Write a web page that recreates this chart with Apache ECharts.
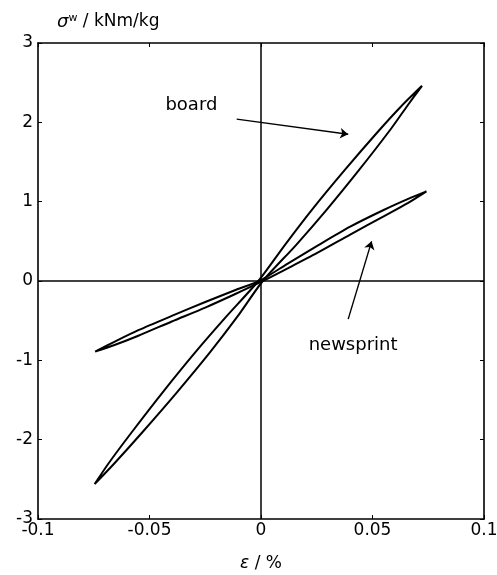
<!DOCTYPE html>
<html>
<head>
<meta charset="utf-8">
<script src="https://cdn.jsdelivr.net/npm/echarts@6/dist/echarts.min.js"></script>
<style>
  html, body { margin: 0; padding: 0; background: #fff; }
  #chart { width: 497px; height: 575px; }
</style>
</head>
<body>
<div id="chart"></div>
<script>
// Axis ticks and labels
const xTicks = [-0.1, -0.05, 0, 0.05, 0.1];
const xTickLabels = ['-0.1', '-0.05', '0', '0.05', '0.1'];
const yTicks = [-3, -2, -1, 0, 1, 2, 3];
const yTickLabels = ['-3', '-2', '-1', '0', '1', '2', '3'];

// Hysteresis loops: [strain %, specific stress kNm/kg]
// board: upper branch (tip to tip), then lower branch back
const boardUpper = [[-0.0746,-2.56],[-0.0684,-2.30],[-0.0578,-1.90],[-0.0440,-1.40],[-0.0295,-0.90],[-0.0156,-0.45],[-0.0012,0.0],[0.0106,0.45],[0.0229,0.90],[0.0376,1.40],[0.0530,1.90],[0.0628,2.20],[0.0722,2.46]];
const boardLower = [[0.0722,2.46],[0.0654,2.20],[0.0578,1.90],[0.0440,1.40],[0.0295,0.90],[0.0156,0.45],[0.0008,0.0],[-0.0106,-0.45],[-0.0229,-0.90],[-0.0376,-1.40],[-0.0530,-1.90],[-0.0658,-2.30],[-0.0746,-2.56]];
// newsprint
const newsprintUpper = [[-0.0744,-0.89],[-0.066,-0.77],[-0.055,-0.62],[-0.040,-0.44],[-0.025,-0.265],[-0.012,-0.12],[0.0,0.012],[0.012,0.22],[0.025,0.44],[0.040,0.685],[0.055,0.895],[0.066,1.035],[0.0742,1.13]];
const newsprintLower = [[0.0742,1.13],[0.066,0.985],[0.055,0.815],[0.040,0.585],[0.025,0.35],[0.012,0.16],[0.0,-0.012],[-0.012,-0.17],[-0.025,-0.335],[-0.040,-0.51],[-0.055,-0.69],[-0.066,-0.81],[-0.0744,-0.89]];

// Annotation text and arrow positions in data units
const labelNames = ['board', 'newsprint'];
const labelAt = [[-0.0312, 2.22], [0.0413, -0.81]];
const arrowFrom = [[-0.0109, 2.04], [0.0391, -0.48]];
const arrowTo = [[0.0391, 1.85], [0.0496, 0.50]];

const FONT = 'DejaVu Sans';
const BLACK = '#000';

function xFmt(v) {
  const i = xTicks.findIndex(t => Math.abs(t - v) < 1e-9);
  return i >= 0 ? xTickLabels[i] : '';
}
function yFmt(v) {
  const i = yTicks.findIndex(t => Math.abs(t - v) < 1e-9);
  return i >= 0 ? yTickLabels[i] : '';
}

function xAxisDef(pos, showLabels) {
  return {
    type: 'value', position: pos, min: -0.1, max: 0.1, interval: 0.05,
    axisLine: { show: true, onZero: false, lineStyle: { color: BLACK, width: 1.6 } },
    axisTick: { show: true, inside: true, length: 4, lineStyle: { color: BLACK, width: 1 } },
    axisLabel: { show: showLabels, color: BLACK, fontFamily: FONT, fontSize: 17, margin: 3,
                 formatter: xFmt, showMinLabel: true, showMaxLabel: true },
    splitLine: { show: false }
  };
}
function yAxisDef(pos, showLabels) {
  return {
    type: 'value', position: pos, min: -3, max: 3, interval: 1,
    axisLine: { show: true, onZero: false, lineStyle: { color: BLACK, width: 1.6 } },
    axisTick: { show: true, inside: true, length: 4, lineStyle: { color: BLACK, width: 1 } },
    axisLabel: { show: showLabels, color: BLACK, fontFamily: FONT, fontSize: 17, margin: 5,
                 formatter: yFmt, showMinLabel: true, showMaxLabel: true },
    splitLine: { show: false }
  };
}

const xBottom = xAxisDef('bottom', true);
xBottom.name = '{e|ε} / %';
xBottom.nameLocation = 'middle';
xBottom.nameGap = 36;
xBottom.nameTextStyle = { color: BLACK, fontFamily: FONT, fontSize: 17,
  rich: { e: { fontFamily: FONT, fontStyle: 'italic', fontSize: 17, color: BLACK } } };

const yLeft = yAxisDef('left', true);
yLeft.name = '{s|σ}{w|w} / kNm/kg';
yLeft.nameLocation = 'end';
yLeft.nameGap = 21;
yLeft.nameTextStyle = { color: BLACK, fontFamily: FONT, fontSize: 17, align: 'left',
  verticalAlign: 'middle', padding: [0, 0, 0, 19],
  rich: {
    s: { fontFamily: FONT, fontStyle: 'italic', fontSize: 18, color: BLACK },
    w: { fontFamily: FONT, fontSize: 11, color: BLACK, padding: [0, 0, 8, 0] }
  } };

const loopStyle = { color: BLACK, width: 2 };

const chart = echarts.init(document.getElementById('chart'), null, { renderer: 'canvas' });
chart.setOption({
  animation: false,
  backgroundColor: '#fff',
  grid: { left: 38, right: 13, top: 43, bottom: 56, outerBoundsMode: 'none' },
  xAxis: [xBottom, xAxisDef('top', false)],
  yAxis: [yLeft, yAxisDef('right', false)],
  series: [
    {
      name: 'zero', type: 'line', data: [], z: 1,
      markLine: {
        silent: true, symbol: 'none', animation: false,
        label: { show: false },
        lineStyle: { color: BLACK, type: 'solid', width: 1.5 },
        data: [{ xAxis: 0 }, { yAxis: 0 }]
      }
    },
    {
      name: 'board', type: 'line', showSymbol: false, smooth: 0.25, z: 3,
      lineStyle: loopStyle, itemStyle: { color: BLACK },
      data: boardUpper.concat(boardLower)
    },
    {
      name: 'newsprint', type: 'line', showSymbol: false, smooth: 0.25, z: 3,
      lineStyle: loopStyle, itemStyle: { color: BLACK },
      data: newsprintUpper.concat(newsprintLower)
    },
    {
      name: 'labels', type: 'line', data: [], z: 4,
      markLine: {
        silent: true, animation: false, symbol: ['none', 'arrow'], symbolSize: 8,
        label: { show: false },
        lineStyle: { color: BLACK, type: 'solid', width: 1.4 },
        data: arrowFrom.map((p, i) => [{ coord: p }, { coord: arrowTo[i] }])
      },
      markPoint: {
        silent: true, animation: false, symbol: 'circle', symbolSize: 0,
        label: { show: true, position: 'inside', color: BLACK, fontFamily: FONT, fontSize: 18 },
        data: labelNames.map((n, i) => ({ coord: labelAt[i], value: n,
          label: { formatter: n } }))
      }
    }
  ]
});
</script>
</body>
</html>
